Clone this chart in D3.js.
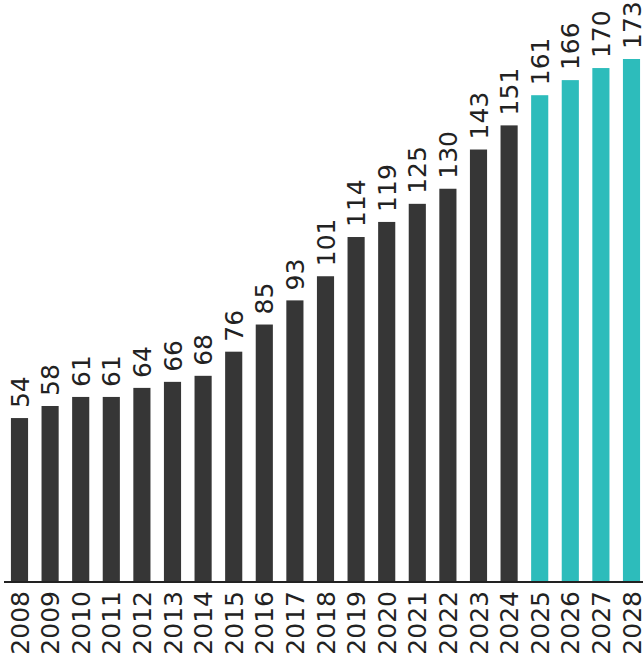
<!DOCTYPE html>
<html>
<head>
<meta charset="utf-8">
<script src="https://cdn.jsdelivr.net/npm/d3@7"></script>
<style>
html,body{margin:0;padding:0;background:#fff;}
svg{display:block;}
</style>
</head>
<body>
<svg id="chart" width="643" height="656"></svg>
<script>
const years = ["2008","2009","2010","2011","2012","2013","2014","2015","2016","2017","2018","2019","2020","2021","2022","2023","2024","2025","2026","2027","2028"];
const values = [54,58,61,61,64,66,68,76,85,93,101,114,119,125,130,143,151,161,166,170,173];
const forecastYears = ["2025","2026","2027","2028"];

const svg = d3.select("#chart");
const baseY = 581;
const x = d3.scaleBand().domain(years).range([4.2, 646.8]).paddingInner(0.44).paddingOuter(0.22);
const y = d3.scaleLinear().domain([0, 173]).range([baseY, 59]);

const data = years.map((yr, i) => ({year: yr, value: values[i]}));

svg.selectAll("rect.bar").data(data).join("rect")
  .attr("class","bar")
  .attr("x", d => x(d.year))
  .attr("y", d => y(d.value))
  .attr("width", x.bandwidth())
  .attr("height", d => y(0) - y(d.value))
  .attr("fill", d => forecastYears.includes(d.year) ? "#2dbcbb" : "#363636");

svg.selectAll("text.val").data(data).join("text")
  .attr("class","val")
  .attr("transform", d => `translate(${x(d.year) + x.bandwidth()/2},${y(d.value) - 10}) rotate(-90)`)
  .attr("dy","0.36em")
  .attr("text-anchor","start")
  .attr("font-family","DejaVu Sans, sans-serif")
  .attr("font-size","25px")
  .attr("fill","#222")
  .text(d => d.value);

svg.append("line")
  .attr("x1", 4).attr("x2", 643)
  .attr("y1", baseY + 1).attr("y2", baseY + 1)
  .attr("stroke","#222").attr("stroke-width",2);

svg.selectAll("text.year").data(data).join("text")
  .attr("class","year")
  .attr("transform", d => `translate(${x(d.year) + x.bandwidth()/2},591) rotate(-90)`)
  .attr("dy","0.36em")
  .attr("text-anchor","end")
  .attr("font-family","DejaVu Sans, sans-serif")
  .attr("font-size","25px")
  .attr("fill","#222")
  .text(d => d.year);
</script>
</body>
</html>
